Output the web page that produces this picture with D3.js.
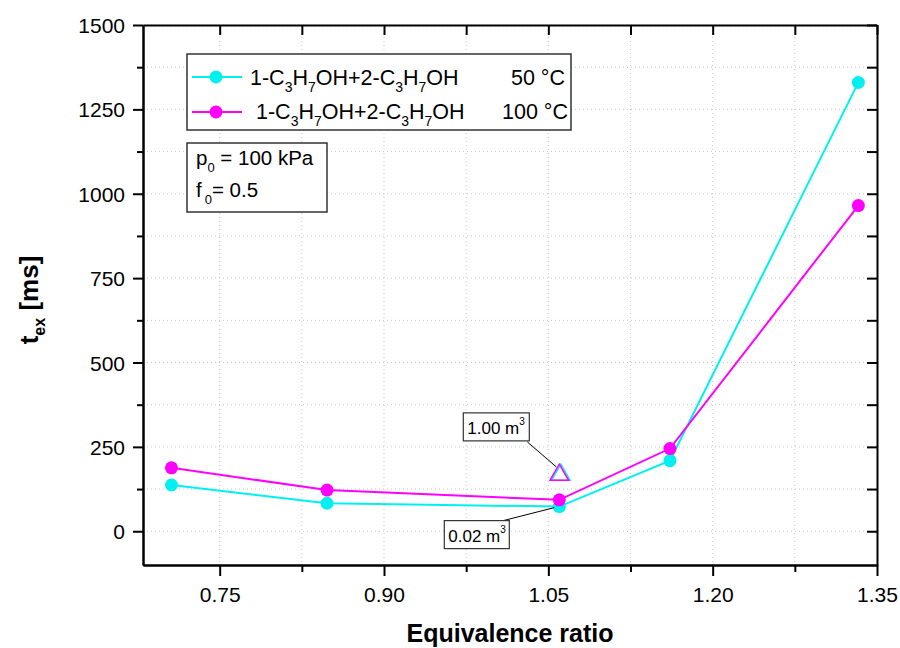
<!DOCTYPE html>
<html>
<head>
<meta charset="utf-8">
<script src="https://cdn.jsdelivr.net/npm/d3@7"></script>
<style>
  body { margin: 0; background: #fff; }
  svg { font-family: "Liberation Sans", Arial, sans-serif; }
</style>
</head>
<body>
<div id="my_dataviz"></div>
<script>
// data
const ratio = [0.706, 0.848, 1.06, 1.161, 1.333];
const t50 = [137, 83, 73, 209, 1330];
const t100 = [188, 122, 93, 245, 965];
// open triangle (1.00 m3 vessel)
const bigVesselX = 1.06;
const bigVesselY = 167;

const xTicks = [0.75, 0.90, 1.05, 1.20, 1.35];
const xMinor = [0.825, 0.975, 1.125, 1.275];
const yTicks = [0, 250, 500, 750, 1000, 1250, 1500];
const yMinor = [125, 375, 625, 875, 1125, 1375];

const cyan = "#00f0f0", magenta = "#ff00ff";

const margin = {top: 25, right: 23, bottom: 83, left: 143},
  width = 900 - margin.left - margin.right,
  height = 648 - margin.top - margin.bottom;

const root = d3.select("#my_dataviz")
  .append("svg")
  .attr("width", 900)
  .attr("height", 648);

const svg = root.append("g")
  .attr("transform", `translate(${margin.left}, ${margin.top})`);

const x = d3.scaleLinear().domain([0.68, 1.35]).range([0, width]);
const y = d3.scaleLinear().domain([-100, 1500]).range([height, 0]);

// grid (dotted)
const grid = svg.append("g");
grid.selectAll("line.gx")
  .data(xTicks.concat(xMinor))
  .join("line")
  .attr("x1", d => x(d)).attr("x2", d => x(d))
  .attr("y1", 0).attr("y2", height)
  .attr("stroke", "#c8c8c8").attr("stroke-dasharray", "1,3");
grid.selectAll("line.gy")
  .data(yTicks.concat(yMinor))
  .join("line")
  .attr("class", "gy")
  .attr("x1", 0).attr("x2", width)
  .attr("y1", d => y(d)).attr("y2", d => y(d))
  .attr("stroke", "#c8c8c8").attr("stroke-dasharray", "1,3");

// axes
function styleAxis(g) {
  g.select(".domain").attr("stroke", "#000").attr("stroke-width", 2);
  g.selectAll(".tick line").attr("stroke", "#000").attr("stroke-width", 2);
  g.selectAll(".tick text").attr("fill", "#000").attr("font-size", 21)
    .attr("font-family", "Liberation Sans, Arial, sans-serif");
}

svg.append("g")
  .attr("transform", `translate(0, ${height})`)
  .call(d3.axisBottom(x).tickValues(xMinor).tickSize(7).tickSizeOuter(0).tickFormat(""))
  .call(styleAxis);
svg.append("g")
  .attr("transform", `translate(0, ${height})`)
  .call(d3.axisBottom(x).tickValues(xTicks).tickSize(11).tickSizeOuter(0)
    .tickPadding(11).tickFormat(d3.format(".2f")))
  .call(styleAxis);

svg.append("g")
  .call(d3.axisLeft(y).tickValues(yMinor).tickSize(6).tickSizeOuter(0).tickFormat(""))
  .call(styleAxis);
svg.append("g")
  .call(d3.axisLeft(y).tickValues(yTicks).tickSize(10).tickSizeOuter(0).tickPadding(8)
    .tickFormat(d3.format("d")))
  .call(styleAxis)
  .selectAll(".tick text").attr("dy", "0.36em");

// top and right axes, ticks inward
svg.append("g")
  .call(d3.axisTop(x).tickValues(xTicks.concat(xMinor)).tickSize(-10).tickSizeOuter(0).tickFormat(""))
  .call(styleAxis);
svg.append("g")
  .attr("transform", `translate(${width}, 0)`)
  .call(d3.axisRight(y).tickValues(yTicks.concat(yMinor)).tickSize(-10).tickSizeOuter(0).tickFormat(""))
  .call(styleAxis);

// series
const line = d3.line().x(d => x(d[0])).y(d => y(d[1]));
const series = [
  {vals: t50, color: cyan},
  {vals: t100, color: magenta},
];
series.forEach(function(s) {
  const pts = ratio.map((r, i) => [r, s.vals[i]]);
  svg.append("path")
    .datum(pts)
    .attr("d", line)
    .attr("fill", "none")
    .attr("stroke", s.color)
    .attr("stroke-width", 2);
  svg.selectAll(null)
    .data(pts)
    .join("circle")
    .attr("cx", d => x(d[0]))
    .attr("cy", d => y(d[1]))
    .attr("r", 6.5)
    .attr("fill", s.color);
});

// open triangles for the 1.00 m3 vessel
const tri = d3.symbol().type(d3.symbolTriangle).size(150);
svg.append("path")
  .attr("d", tri)
  .attr("transform", `translate(${x(bigVesselX) + 1.5}, ${y(bigVesselY)})`)
  .attr("fill", "none").attr("stroke", cyan).attr("stroke-width", 1.5);
svg.append("path")
  .attr("d", tri)
  .attr("transform", `translate(${x(bigVesselX)}, ${y(bigVesselY)})`)
  .attr("fill", "none").attr("stroke", magenta).attr("stroke-width", 1.5);

// annotation boxes with leader lines
function annot(px, py, bx, by, bw, label, lx, ly) {
  const g = svg.append("g");
  g.append("line")
    .attr("x1", px).attr("y1", py)
    .attr("x2", lx).attr("y2", ly)
    .attr("stroke", "#000").attr("stroke-width", 1);
  g.append("rect")
    .attr("x", bx).attr("y", by).attr("width", bw).attr("height", 28)
    .attr("fill", "#fff").attr("stroke", "#333").attr("stroke-width", 1.2);
  const t = g.append("text")
    .attr("x", bx + 4).attr("y", by + 21)
    .attr("font-size", 17).attr("fill", "#000");
  t.append("tspan").text(label);
  t.append("tspan").attr("font-size", 10).attr("dy", -9).text("3");
}
const tx = x(bigVesselX), ty = y(bigVesselY);
annot(tx - 3, ty - 8, tx - 96, ty - 62, 66, "1.00 m", tx - 32, ty - 33);
const cx3 = x(ratio[2]), cy3 = y(t50[2]);
annot(cx3 - 5, cy3 + 1, cx3 - 115, cy3 + 14, 65, "0.02 m", cx3 - 56, cy3 + 14);

// legend
const lg = root.append("g");
lg.append("rect")
  .attr("x", 187).attr("y", 54).attr("width", 384).attr("height", 76)
  .attr("fill", "#fff").attr("stroke", "#333").attr("stroke-width", 1.5);
const legendRows = [
  {color: cyan, temp: "50 °C", ty: 85, tx: 250, rx: 565, cy: 77},
  {color: magenta, temp: "100 °C", ty: 119, tx: 256, rx: 568, cy: 112},
];
function formula(t) {
  const parts = [["1-C", 0], ["3", 1], ["H", 0], ["7", 1], ["OH+2-C", 0], ["3", 1], ["H", 0], ["7", 1], ["OH", 0]];
  let prevSub = 0;
  parts.forEach(function(p) {
    const ts = t.append("tspan").text(p[0]);
    if (p[1]) { ts.attr("font-size", 14).attr("dy", 7); }
    else if (prevSub) { ts.attr("dy", -7); }
    prevSub = p[1];
  });
}
legendRows.forEach(function(r) {
  lg.append("line")
    .attr("x1", 192).attr("x2", 242).attr("y1", r.cy).attr("y2", r.cy)
    .attr("stroke", r.color).attr("stroke-width", 2);
  lg.append("circle").attr("cx", 216).attr("cy", r.cy).attr("r", 6.5).attr("fill", r.color);
  const t = lg.append("text").attr("x", r.tx).attr("y", r.ty).attr("font-size", 21.5);
  formula(t);
  lg.append("text").attr("x", r.rx).attr("y", r.ty).attr("font-size", 21.5)
    .attr("text-anchor", "end").text(r.temp);
});

// condition box
const cb = root.append("g");
cb.append("rect")
  .attr("x", 187).attr("y", 143).attr("width", 140).attr("height", 69)
  .attr("fill", "#fff").attr("stroke", "#333").attr("stroke-width", 1.5);
const c1 = cb.append("text").attr("x", 196).attr("y", 165).attr("font-size", 20.5);
c1.append("tspan").text("p");
c1.append("tspan").attr("font-size", 13).attr("dy", 7).text("0");
c1.append("tspan").attr("dy", -7).text(" = 100 kPa");
const c2 = cb.append("text").attr("x", 196).attr("y", 197).attr("font-size", 20.5);
c2.append("tspan").text("f");
c2.append("tspan").attr("font-size", 13).attr("dy", 7).attr("dx", 3).text("0");
c2.append("tspan").attr("dy", -7).text("= 0.5");

// axis titles
root.append("text")
  .attr("x", margin.left + width / 2).attr("y", 642)
  .attr("text-anchor", "middle")
  .attr("font-size", 25).attr("font-weight", "bold")
  .text("Equivalence ratio");

const yl = root.append("text")
  .attr("transform", "translate(38, 300) rotate(-90)")
  .attr("text-anchor", "middle")
  .attr("font-size", 26).attr("font-weight", "bold");
yl.append("tspan").text("t");
yl.append("tspan").attr("font-size", 16).attr("dy", 7).text("ex");
yl.append("tspan").attr("dy", -7).text(" [ms]");
</script>
</body>
</html>
